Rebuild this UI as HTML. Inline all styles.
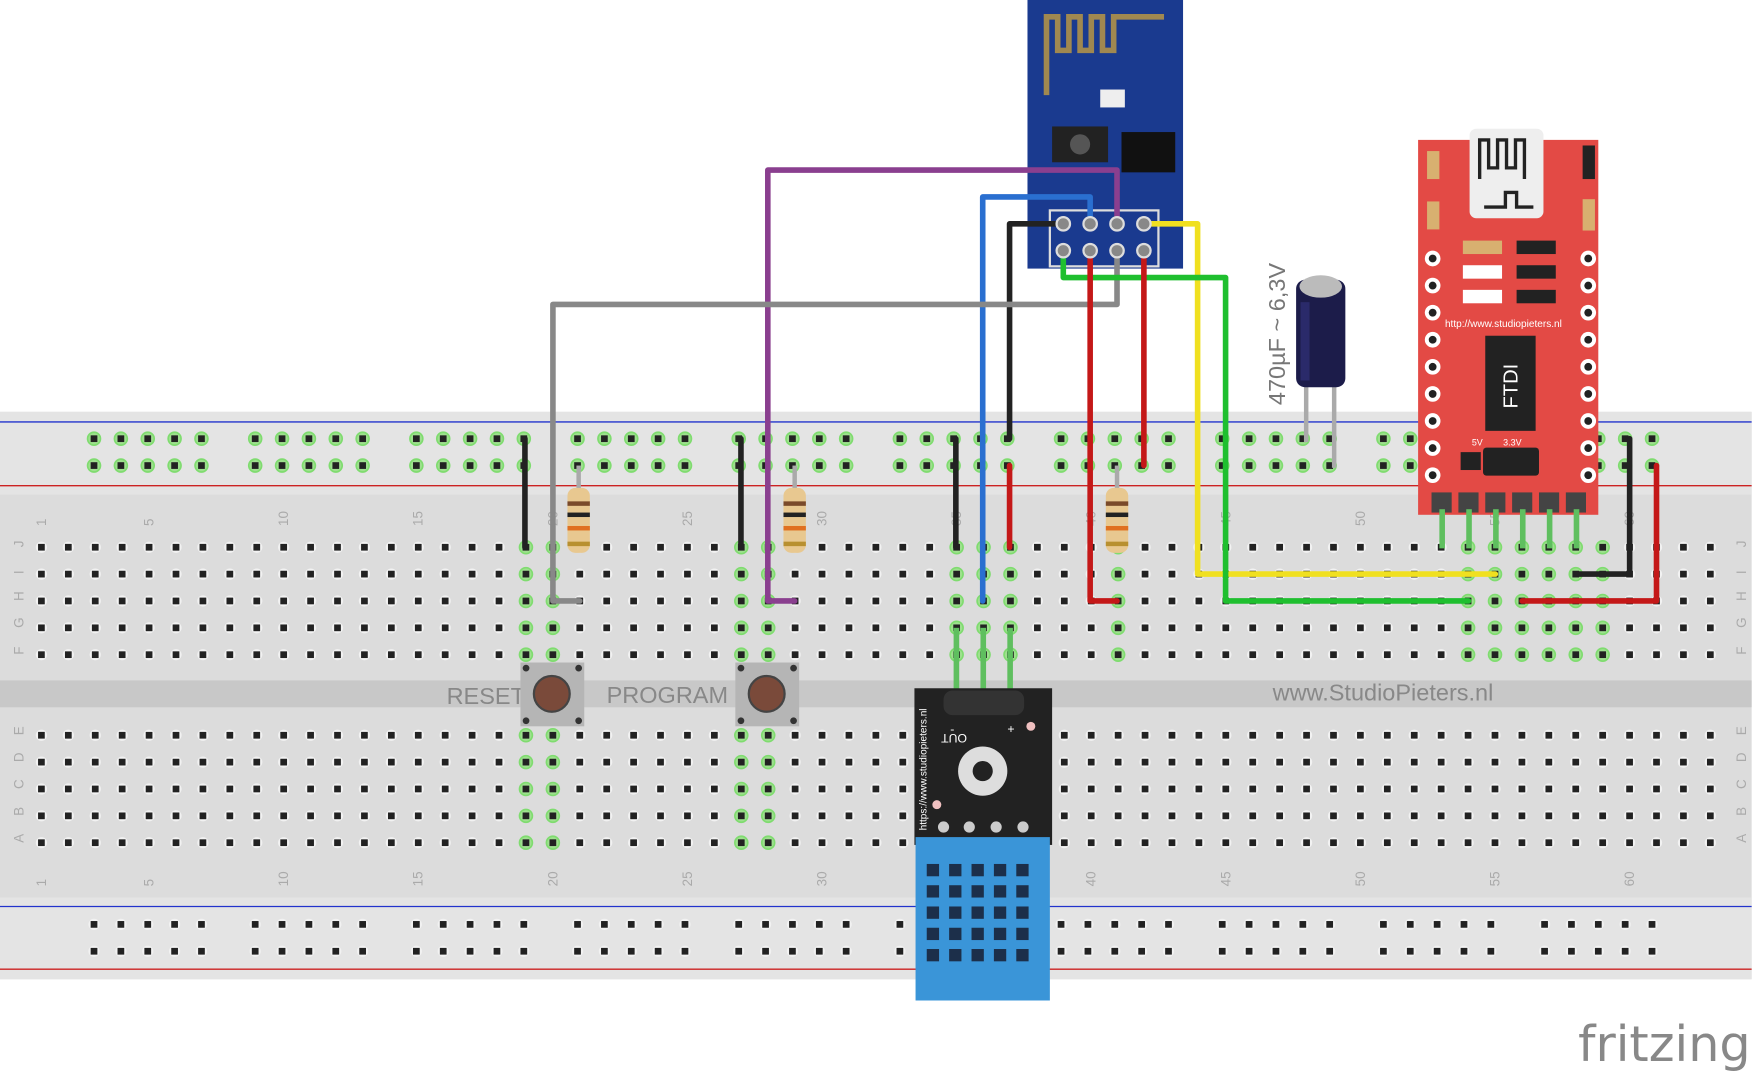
<!DOCTYPE html>
<html><head><meta charset="utf-8"><style>html,body{margin:0;padding:0;background:#fff}svg{display:block}</style></head>
<body>
<svg id="s" xmlns="http://www.w3.org/2000/svg" width="1755" height="1071" viewBox="0 0 1568 957" preserveAspectRatio="none" font-family="Liberation Sans, sans-serif">
<rect width="1568" height="957" fill="#fff"/>
<!-- breadboard -->
<rect x="0" y="368" width="1565" height="507" fill="#dcdcdc"/>
<rect x="0" y="368" width="1565" height="74" fill="#e4e4e4"/>
<rect x="0" y="802" width="1565" height="73" fill="#e4e4e4"/>
<rect x="0" y="608" width="1565" height="24" fill="#c8c8c8"/>
<line x1="0" y1="377" x2="1565" y2="377" stroke="#2233cc" stroke-width="1.2"/>
<line x1="0" y1="434" x2="1565" y2="434" stroke="#cc2222" stroke-width="1.2"/>
<line x1="0" y1="810" x2="1565" y2="810" stroke="#2233cc" stroke-width="1.2"/>
<line x1="0" y1="866" x2="1565" y2="866" stroke="#cc2222" stroke-width="1.2"/>
<g id="holes"></g>
<g id="labels" fill="#aaa" font-size="12"></g>
<text x="399" y="629" font-size="21" fill="#888">RESET</text>
<text x="542" y="628" font-size="21" fill="#888">PROGRAM</text>
<text x="1137" y="626" font-size="21" fill="#888">www.StudioPieters.nl</text>
<!-- resistors -->
<g id="res"></g>
<!-- buttons -->
<g>
<rect x="465" y="592" width="57" height="57" fill="#b5b5b5"/><circle cx="493" cy="620" r="16" fill="#7a4a3a" stroke="#444" stroke-width="2"/>
<circle cx="470" cy="597" r="3" fill="#333"/><circle cx="517" cy="597" r="3" fill="#333"/><circle cx="470" cy="644" r="3" fill="#333"/><circle cx="517" cy="644" r="3" fill="#333"/>
<rect x="657" y="592" width="57" height="57" fill="#b5b5b5"/><circle cx="685" cy="620" r="16" fill="#7a4a3a" stroke="#444" stroke-width="2"/>
<circle cx="662" cy="597" r="3" fill="#333"/><circle cx="709" cy="597" r="3" fill="#333"/><circle cx="662" cy="644" r="3" fill="#333"/><circle cx="709" cy="644" r="3" fill="#333"/>
</g>
<!-- ESP-01 -->
<g>
<rect x="918" y="0" width="139" height="240" fill="#1a3a8f"/>
<path d="M935 85 V15 H945 V45 H955 V15 H965 V45 H975 V15 H985 V45 H995 V15 H1040" fill="none" stroke="#a08850" stroke-width="5"/>
<rect x="983" y="80" width="22" height="16" fill="#eee"/>
<rect x="940" y="113" width="50" height="32" fill="#222"/><circle cx="965" cy="129" r="9" fill="#555"/>
<rect x="1002" y="118" width="48" height="36" fill="#111"/>
<rect x="938" y="188" width="97" height="50" fill="none" stroke="#ddd" stroke-width="2"/>
</g>
<!-- FTDI -->
<g>
<rect x="1267" y="125" width="161" height="335" fill="#e34a45"/>
<rect x="1313" y="115" width="66" height="80" rx="6" fill="#eee"/>
<path d="M1322 160 V125 H1330 V150 H1338 V125 H1346 V150 H1354 V125 H1362 V160 M1326 185 H1345 V172 H1355 V185 H1370" fill="none" stroke="#222" stroke-width="3"/>
<rect x="1275" y="135" width="11" height="25" fill="#d8b070"/><rect x="1414" y="130" width="11" height="30" fill="#222"/>
<rect x="1275" y="180" width="11" height="25" fill="#d8b070"/><rect x="1414" y="178" width="11" height="28" fill="#d8b070"/>
<rect x="1307" y="215" width="35" height="12" fill="#d8b070"/><rect x="1355" y="215" width="35" height="12" fill="#222"/>
<rect x="1307" y="237" width="35" height="12" fill="#fff"/><rect x="1355" y="237" width="35" height="12" fill="#222"/>
<rect x="1307" y="259" width="35" height="12" fill="#fff"/><rect x="1355" y="259" width="35" height="12" fill="#222"/>
<text x="1291" y="292" font-size="9" fill="#fff">http://www.studiopieters.nl</text>
<rect x="1327" y="300" width="45" height="85" fill="#222"/>
<text x="1356" y="365" font-size="18" fill="#fff" transform="rotate(-90 1356 365)">FTDI</text>
<rect x="1325" y="400" width="50" height="25" rx="3" fill="#222"/>
<rect x="1305" y="404" width="18" height="16" fill="#222"/>
<text x="1315" y="398" font-size="8" fill="#fff">5V</text><text x="1343" y="398" font-size="8" fill="#fff">3.3V</text>
<g id="ftdipins"></g>
</g>
<!-- capacitor -->
<g>
<rect x="1165" y="340" width="4" height="55" fill="#aaa"/><rect x="1190" y="340" width="4" height="78" fill="#aaa"/>
<rect x="1158" y="250" width="44" height="96" rx="8" fill="#1c1c4a"/>
<ellipse cx="1180" cy="256" rx="19" ry="10" fill="#bbb"/>
<rect x="1162" y="270" width="8" height="70" fill="#2a2a6a"/>
<text x="1148" y="362" font-size="21" fill="#777" transform="rotate(-90 1148 362)">470µF ~ 6,3V</text>
</g>
<!-- wires -->
<g fill="none" stroke-width="5" stroke-linejoin="round" stroke-linecap="round">
<path d="M998 200 V152 H686 V537 H710" stroke="#8a3f8f"/>
<path d="M974 200 V176 H878 V537" stroke="#2a6fd0"/>
<path d="M950 200 H902 V392" stroke="#222"/>
<path d="M1022 200 H1070 V513 H1336" stroke="#f0e020"/>
<path d="M998 224 V272 H494 V537 H518" stroke="#888"/>
<path d="M950 224 V248 H1095 V537 H1312" stroke="#1fbf2f"/>
<path d="M974 224 V537 H998" stroke="#c41818"/>
<path d="M1022 224 V416" stroke="#c41818"/>
<path d="M469 392 V489" stroke="#222"/>
<path d="M662 392 V489" stroke="#222"/>
<path d="M854 392 V489" stroke="#222"/>
<path d="M902 416 V489" stroke="#c41818"/>
<path d="M1456 392 V513 H1408" stroke="#222"/>
<path d="M1480 416 V537 H1360" stroke="#c41818"/>
</g>
<g id="espins"></g>
<!-- DHT -->
<g>
<rect x="852" y="561" width="5" height="62" fill="#5fbf5f"/><rect x="876" y="561" width="5" height="62" fill="#5fbf5f"/><rect x="900" y="561" width="5" height="62" fill="#5fbf5f"/>
<rect x="817" y="615" width="123" height="140" fill="#222"/>
<rect x="843" y="617" width="72" height="22" rx="8" fill="#333"/>
<text x="849" y="655" font-size="11" fill="#fff">-</text>
<text x="890" y="648" font-size="11" fill="#fff" transform="rotate(180 877 652)">OUT</text>
<text x="900" y="655" font-size="11" fill="#fff">+</text>
<circle cx="921" cy="649" r="4" fill="#f0c0c0"/><circle cx="837" cy="719" r="4" fill="#f0c0c0"/>
<circle cx="878" cy="689" r="22" fill="#ddd"/><circle cx="878" cy="689" r="9" fill="#222"/>
<text x="828" y="742" font-size="9" fill="#fff" transform="rotate(-90 828 742)">https://www.studiopieters.nl</text>
<circle cx="843" cy="739" r="5" fill="#ccc"/><circle cx="866" cy="739" r="5" fill="#ccc"/><circle cx="890" cy="739" r="5" fill="#ccc"/><circle cx="914" cy="739" r="5" fill="#ccc"/>
<rect x="818" y="748" width="120" height="146" fill="#3a95d8"/>
<g id="dht" fill="#1c2f4a"></g>
</g>
<text x="1410" y="948" font-size="44" fill="#888" font-family="DejaVu Sans, sans-serif">fritzing</text>
</svg>
<script>
const NS="http://www.w3.org/2000/svg";
function el(p,t,a){const e=document.createElementNS(NS,t);for(const k in a)e.setAttribute(k,a[k]);p.appendChild(e);return e;}
const H=document.getElementById('holes');
const green=new Set();
function colx(c){return 37+(c-1)*24.05;}
// green columns: set of [col, rows]
const gcols={19:'JIHGF EDCBA',20:'JIHGF EDCBA',27:'JIHGF EDCBA',28:'JIHGF EDCBA',35:'JIHGF',36:'JIHGF',37:'JIHGF',41:'JIHGF',54:'JIHGF',55:'JIHGF',56:'JIHGF',57:'JIHGF',58:'JIHGF',59:'JIHGF'};
function hole(x,y,g){ if(g)el(H,'circle',{cx:x,cy:y,r:6.5,fill:'#7fdc6f'}); el(H,'circle',{cx:x,cy:y,r:5,fill:g?'#9fe08f':'#f2f2f2'}); el(H,'rect',{x:x-3,y:y-3,width:6,height:6,fill:'#222'}); }
const topR=['J','I','H','G','F'],botR=['E','D','C','B','A'];
const ty=[489,513,537,561,585],by=[657,681,705,729,753];
for(let c=1;c<=63;c++){const x=colx(c);const g=gcols[c]||'';
 topR.forEach((r,i)=>hole(x,ty[i],g.includes(r)&&!(g.includes(' ')&&false)));
 botR.forEach((r,i)=>hole(x,by[i],g.includes(' ')&&g.split(' ')[1].includes(r)));}
const railX=[];for(let g=0;g<10;g++)for(let i=0;i<5;i++)railX.push(84+g*144+i*24);
railX.forEach(x=>{[392,416].forEach(y=>hole(x,y,true));[826,850].forEach(y=>hole(x,y,false));});
const L=document.getElementById('labels');
[1,5,10,15,20,25,30,35,40,45,50,55,60].forEach(c=>{const x=colx(c)+4;
 el(L,'text',{x:x,y:470,transform:`rotate(-90 ${x} 470)`}).textContent=c;
 el(L,'text',{x:x,y:792,transform:`rotate(-90 ${x} 792)`}).textContent=c;});
topR.forEach((r,i)=>{[17,1556].forEach(x=>el(L,'text',{x:x,y:ty[i]+4,transform:`rotate(-90 ${x} ${ty[i]})`}).textContent=r);});
botR.forEach((r,i)=>{[17,1556].forEach(x=>el(L,'text',{x:x,y:by[i]+4,transform:`rotate(-90 ${x} ${by[i]})`}).textContent=r);});
const R=document.getElementById('res');
[517,710,998].forEach(x=>{el(R,'rect',{x:x-2,y:416,width:4,height:73,fill:'#aaa'});
 el(R,'rect',{x:x-10,y:436,width:20,height:58,rx:7,fill:'#e8c890'});
 [[448,'#7a4a2a'],[458,'#222'],[470,'#e07020'],[484,'#b89030']].forEach(b=>el(R,'rect',{x:x-10,y:b[0],width:20,height:4,fill:b[1]}));});
const E=document.getElementById('espins');
[950,974,998,1022].forEach(x=>[200,224].forEach(y=>{el(E,'circle',{cx:x,cy:y,r:6,fill:'#888',stroke:'#ddd','stroke-width':2});}));
const F=document.getElementById('ftdipins');
for(let i=0;i<9;i++){const y=231+i*24.2;el(F,'circle',{cx:1280,cy:y,r:7,fill:'#fff'});el(F,'circle',{cx:1280,cy:y,r:3.5,fill:'#222'});el(F,'circle',{cx:1419,cy:y,r:7,fill:'#fff'});el(F,'circle',{cx:1419,cy:y,r:3.5,fill:'#222'});}
for(let i=0;i<6;i++){const x=1288+i*24;el(F,'rect',{x:x-9,y:440,width:18,height:18,fill:'#444'});el(F,'rect',{x:x-2,y:455,width:5,height:35,fill:'#5fbf5f'});}
const D=document.getElementById('dht');
for(let r=0;r<5;r++)for(let c=0;c<5;c++)el(D,'rect',{x:828+c*20,y:772+r*19,width:11,height:11});
</script>
</body></html>
